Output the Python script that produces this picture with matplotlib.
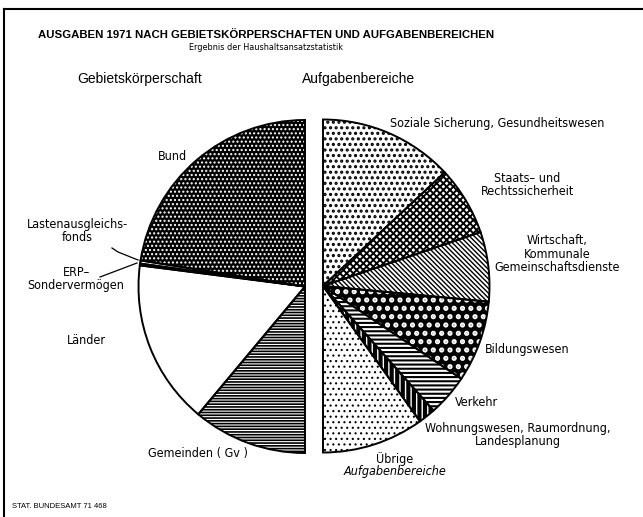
import matplotlib
matplotlib.use('Agg')
import matplotlib.pyplot as plt
from matplotlib import font_manager

# Ausgaben 1971 - shares in percent of each half circle
left_labels = ['Bund', 'Lastenausgleichsfonds', 'ERP-Sondervermögen', 'Länder', 'Gemeinden (Gv)']
left_values = [45.0, 0.6, 0.35, 31.9, 22.15]

right_labels = ['Soziale Sicherung, Gesundheitswesen', 'Staats- und Rechtssicherheit',
                'Wirtschaft, Kommunale Gemeinschaftsdienste', 'Bildungswesen', 'Verkehr',
                'Wohnungswesen, Raumordnung, Landesplanung', 'Übrige Aufgabenbereiche']
right_values = [26.1, 13.4, 13.5, 15.8, 8.1, 3.3, 19.8]

# (facecolor, hatch colour, hatch, hatch linewidth)
left_styles = [('black', 'white', '....', 1.0),
               ('white', 'black', '', 1.0),
               ('white', 'black', '', 1.0),
               ('white', 'black', '', 1.0),
               ('white', 'black', '------', 1.2)]
right_styles = [('white', 'black', '...', 1.5),
                ('white', 'black', 'xxxxx', 1.4),
                ('white', 'black', '\\' * 7, 1.0),
                ('black', 'white', '..', 2.5),
                ('white', 'black', '----', 1.5),
                ('white', 'black', '|||', 3.0),
                ('white', 'black', '...', 0.8)]

fonts = font_manager.fontManager.ttflist
names = {f.name for f in fonts}
if 'Liberation Sans Narrow' in names:
    narrow = dict(family='Liberation Sans Narrow')
else:
    narrow = dict(family='DejaVu Sans', fontstretch='condensed')
plain = 'Liberation Sans' if 'Liberation Sans' in names else 'DejaVu Sans'

W, H = 643, 517
fig = plt.figure(figsize=(W / 100, H / 100), dpi=100)
ax = fig.add_axes([0, 0, 1, 1])


def Y(y):
    return H - y


R = 166.5


def half_pie(values, styles, center, counterclock):
    vals = list(values) + [sum(values)]
    fills, _ = ax.pie(vals, center=center, radius=R, startangle=90,
                      counterclock=counterclock, frame=True)
    fills[-1].set_visible(False)
    for w, (fc, hc, hatch, hlw) in zip(fills, styles):
        w.set_facecolor(fc)
        w.set_edgecolor(hc)
        w.set_linewidth(0)
        w.set_hatch(hatch)
        if hasattr(w, 'set_hatch_linewidth'):
            w.set_hatch_linewidth(hlw)
    outlines, _ = ax.pie(vals, center=center, radius=R, startangle=90,
                         counterclock=counterclock, frame=True,
                         wedgeprops=dict(facecolor='none', edgecolor='black', linewidth=1.4))
    outlines[-1].set_visible(False)


half_pie(left_values, left_styles, (305, Y(286.5)), True)
half_pie(right_values, right_styles, (323, Y(286)), False)

ax.set_xlim(0, W)
ax.set_ylim(0, H)
ax.set_aspect('auto')
ax.axis('off')

# frame
ax.plot([4, 4], [Y(9), Y(517)], color='black', lw=1.5)
ax.plot([4, W], [Y(9), Y(9)], color='black', lw=1.5)

# titles
ax.text(266, Y(35), 'AUSGABEN 1971 NACH GEBIETSKÖRPERSCHAFTEN UND AUFGABENBEREICHEN',
        ha='center', va='center', fontsize=8.2, fontweight='bold', family=plain)
ax.text(266, Y(47), 'Ergebnis der Haushaltsansatzstatistik', ha='center', va='center',
        fontsize=6.5, **narrow)
ax.text(140, Y(79), 'Gebietskörperschaft', ha='center', va='center', fontsize=10, family=plain)
ax.text(359, Y(79), 'Aufgabenbereiche', ha='center', va='center', fontsize=10, family=plain)

lab = dict(fontsize=9, va='center', **narrow)

# left side labels
ax.text(172, Y(157), 'Bund', ha='center', **lab)
ax.text(77, Y(231), 'Lastenausgleichs-\nfonds', ha='center', linespacing=0.95, **lab)
ax.text(76, Y(279), 'ERP–\nSondervermögen', ha='center', linespacing=1.1, **lab)
ax.text(86, Y(340), 'Länder', ha='center', **lab)
ax.text(198, Y(453), 'Gemeinden ( Gv )', ha='center', **lab)
ax.plot([112, 118, 138], [Y(248), Y(252), Y(260)], color='black', lw=0.9)
ax.plot([100, 137], [Y(277), Y(263)], color='black', lw=0.9)

# right side labels
ax.text(390, Y(123), 'Soziale Sicherung, Gesundheitswesen', ha='left', **lab)
ax.text(527, Y(185), 'Staats– und\nRechtssicherheit', ha='center', linespacing=0.95, **lab)
ax.text(557, Y(254), 'Wirtschaft,\nKommunale\nGemeinschaftsdienste', ha='center',
        linespacing=1.05, **lab)
ax.text(485, Y(349), 'Bildungswesen', ha='left', **lab)
ax.text(455, Y(402), 'Verkehr', ha='left', **lab)
ax.text(518, Y(435), 'Wohnungswesen, Raumordnung,\nLandesplanung', ha='center',
        linespacing=1.0, **lab)
ax.text(395, Y(459), 'Übrige', ha='center', **lab)
ax.text(395, Y(472), 'Aufgabenbereiche', ha='center', style='italic', **lab)

ax.text(12, Y(506), 'STAT. BUNDESAMT 71 468', ha='left', va='center', fontsize=5.5, family=plain)

fig.savefig('out.png', dpi=100)
